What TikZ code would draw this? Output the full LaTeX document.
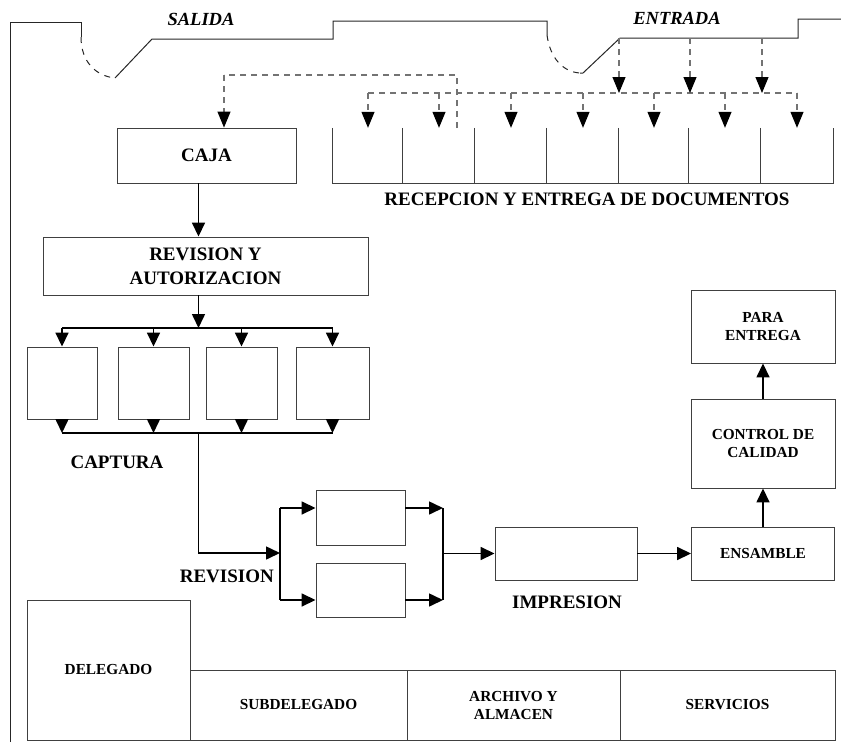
\documentclass[tikz,border=0pt]{standalone}
\usepackage{fontspec}
\setmainfont{Liberation Serif}
\usetikzlibrary{arrows.meta,calc}
\tikzset{
  boxline/.style={draw=black!75, line width=0.9pt},
  bigbox/.style={boxline, inner sep=2pt, align=center, font=\bfseries\fontsize{19}{24}\selectfont},
  smallbox/.style={boxline, inner sep=2pt, align=center, font=\bfseries\fontsize{15.3}{18}\selectfont},
  emptybox/.style={boxline, inner sep=0pt},
  compart/.style={inner sep=0pt, minimum height=55pt},
  biglabel/.style={inner sep=0pt, align=center, font=\bfseries\fontsize{19}{24}\selectfont},
  toplabel/.style={inner sep=0pt, font=\bfseries\itshape\fontsize{18.5}{22}\selectfont},
  conn/.style={line width=1.6pt, black},
  arr/.style={conn, -{Triangle[width=13pt,length=14pt]}},
  dline/.style={black!55, line width=1.1pt, dash pattern=on 6pt off 5pt},
  darr/.style={dline, -{Triangle[width=13pt,length=16pt,color=black]}},
  frame/.style={black!85, line width=1pt},
  framedash/.style={frame, dash pattern=on 6pt off 6pt}
}
\begin{document}
\begin{tikzpicture}[x=1pt,y=-1pt]
\useasboundingbox (0,0) rectangle (841,742);

% ---- outer frame with doors
\draw[frame] (10,742) -- (10,22) -- (81,22) -- (81,37);
\draw[framedash] (81,37) .. controls (81,62) and (96,76) .. (115,78);
\draw[frame] (115,78) -- (152,39) -- (333,39) -- (333,21) -- (547,21) -- (547,35);
\draw[framedash] (547,35) .. controls (550,58) and (563,72) .. (580,73);
\draw[frame] (580,73) -- (583,73) -- (620,38) -- (798,38) -- (798,19) -- (841,19);

\node[toplabel] (salida) at (201,19) {SALIDA};
\node[toplabel] (entrada) at (677,18) {ENTRADA};

% ---- reception compartments
\node[compart, minimum width=70pt] (r1) at (368,155.5) {};
\node[compart, minimum width=72pt] (r2) at (439,155.5) {};
\node[compart, minimum width=72pt] (r3) at (511,155.5) {};
\node[compart, minimum width=72pt] (r4) at (583,155.5) {};
\node[compart, minimum width=70pt] (r5) at (654,155.5) {};
\node[compart, minimum width=72pt] (r6) at (725,155.5) {};
\node[compart, minimum width=72pt] (r7) at (797,155.5) {};
\draw[boxline] (r1.north west) |- (r7.south east) -- (r7.north east);
\foreach \i in {2,...,7} \draw[boxline] (r\i.north west) -- (r\i.south west);
\node[biglabel] (recep) at (587,199) {RECEPCION Y ENTREGA DE DOCUMENTOS};

% ---- caja
\node[bigbox, minimum width=179pt, minimum height=55pt] (caja) at (206.5,155.5) {CAJA};

% ---- dashed distribution
\coordinate (dl) at (368,93);
\coordinate (e1) at (619,38);
\coordinate (e2) at (690,38);
\coordinate (e3) at (762,38);
\draw[dline] (r1.north |- dl) -- (r7.north |- dl);
\foreach \i in {1,...,7} \draw[darr] (r\i.north |- dl) -- (r\i.north);
\foreach \e in {e1,e2,e3} \draw[darr] (\e) -- (\e |- dl);
\coordinate (u0) at (457,128);
\coordinate (u1) at (224,75);
\draw[dline] (u0) |- (u1);
\draw[darr] (u1) -- (u1 |- caja.north);

% ---- revision y autorizacion
\node[bigbox, minimum width=325pt, minimum height=58pt] (revaut) at (205.5,266) {REVISION Y\\AUTORIZACION};
\coordinate (a1) at (198.5,0);
\draw[arr] (a1 |- caja.south) -- (a1 |- revaut.north);

% ---- captura
\node[emptybox, minimum width=70pt, minimum height=72pt] (cap1) at (62,383) {};
\node[emptybox, minimum width=71pt, minimum height=72pt] (cap2) at (153.5,383) {};
\node[emptybox, minimum width=71pt, minimum height=72pt] (cap3) at (241.5,383) {};
\node[emptybox, minimum width=73pt, minimum height=72pt] (cap4) at (332.5,383) {};
\coordinate (br) at (0,328);
\coordinate (bl) at (0,433);
\draw[arr] (a1 |- revaut.south) -- (a1 |- br);
\draw[conn] (cap1.north |- br) -- (cap4.north |- br);
\draw[conn] (cap1.south |- bl) -- (cap4.south |- bl);
\foreach \i in {1,...,4} {
  \draw[arr] (cap\i.north |- br) -- (cap\i.north);
  \draw[arr] (cap\i.south) -- (cap\i.south |- bl);
}
\node[biglabel] (captura) at (117,462) {CAPTURA};

% ---- revision
\node[emptybox, minimum width=89pt, minimum height=55pt] (rev1) at (360.5,517.5) {};
\node[emptybox, minimum width=89pt, minimum height=54pt] (rev2) at (360.5,590) {};
\coordinate (j1) at (280,553);
\coordinate (jt) at (280,508);
\coordinate (jb) at (280,600);
\draw[arr] (a1 |- bl) |- (j1);
\draw[conn] (jt) -- (jb);
\draw[arr] (jt) -- (jt -| rev1.west);
\draw[arr] (jb) -- (jb -| rev2.west);
\node[biglabel, anchor=east] (revision) at (274,576) {REVISION};

% ---- impresion
\node[emptybox, minimum width=142pt, minimum height=53pt] (impresion) at (566,553.5) {};
\node[biglabel] (implabel) at (567,602) {IMPRESION};
\coordinate (kt) at (443,508);
\coordinate (kb) at (443,600);
\coordinate (k) at (443,553.5);
\draw[arr] (kt -| rev1.east) -- (kt);
\draw[arr] (kb -| rev2.east) -- (kb);
\draw[conn] (kt) -- (kb);
\draw[arr] (k) -- (impresion.west);

% ---- ensamble, control, entrega
\node[smallbox, minimum width=143pt, minimum height=53pt] (ensamble) at (763,553.5) {ENSAMBLE};
\node[smallbox, minimum width=144pt, minimum height=89pt] (control) at (763,443.5) {CONTROL DE\\CALIDAD};
\node[smallbox, minimum width=144pt, minimum height=73pt] (para) at (763,326.5) {PARA\\ENTREGA};
\draw[arr] (impresion.east) -- (ensamble.west);
\draw[arr] (ensamble.north) -- (control.south);
\draw[arr] (control.north) -- (para.south);

% ---- offices at the bottom
\node[smallbox, minimum width=163pt, minimum height=140pt] (delegado) at (108.5,670) {DELEGADO};
\node[smallbox, minimum width=217pt, minimum height=70pt] (subdel) at (298.5,705) {SUBDELEGADO};
\node[smallbox, minimum width=213pt, minimum height=70pt] (archivo) at (513.5,705) {ARCHIVO Y\\ALMACEN};
\node[smallbox, minimum width=215pt, minimum height=70pt] (servicios) at (727.5,705) {SERVICIOS};
\end{tikzpicture}
\end{document}
